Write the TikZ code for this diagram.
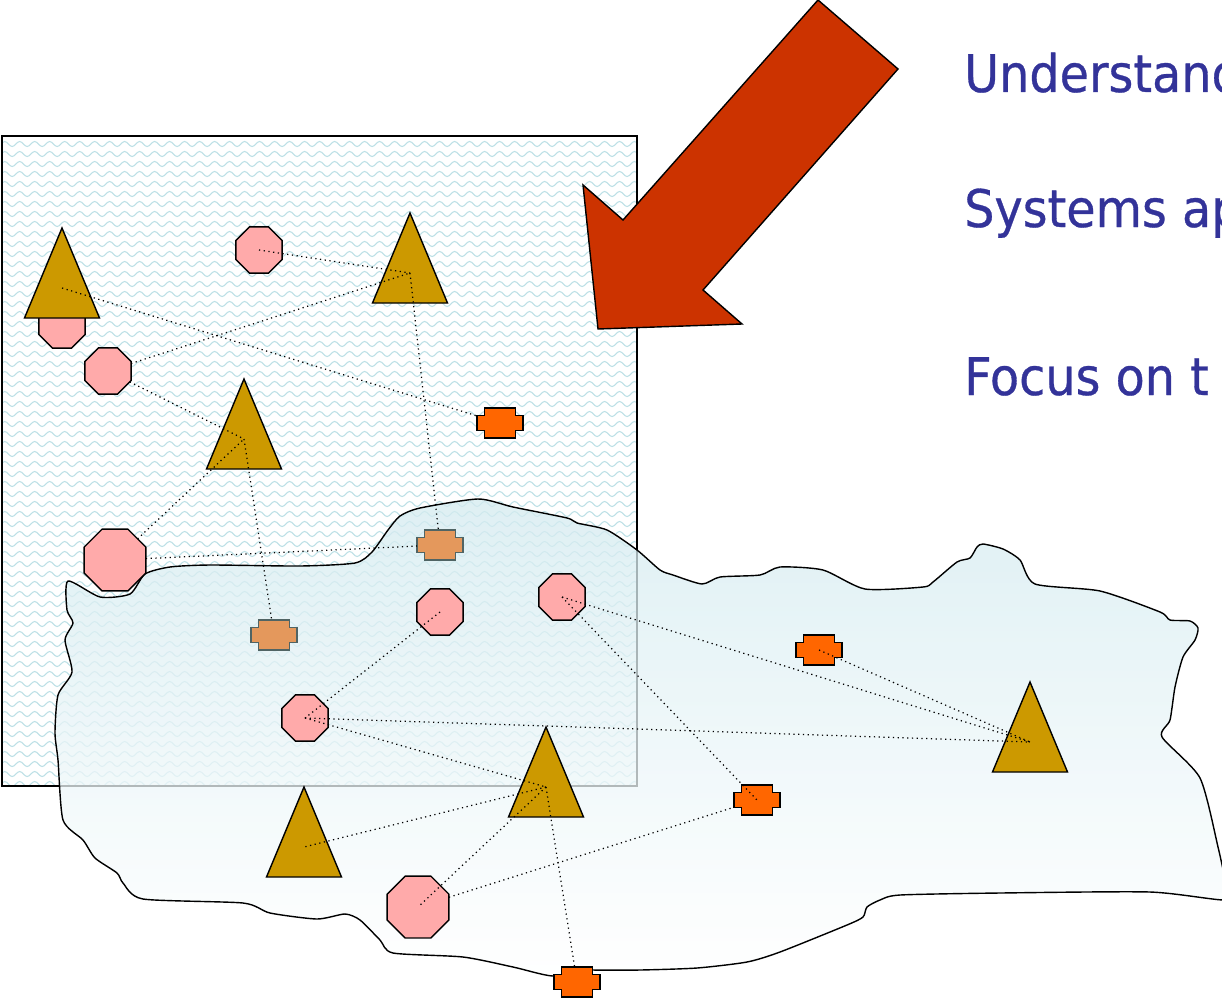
\documentclass[tikz,border=0pt]{standalone}
\usepackage{fontspec}
\usepackage{xcolor}
\usepackage{tikz}
\usetikzlibrary{shapes.geometric,decorations.pathmorphing}
\newfontfamily\slidefont[FakeStretch=0.92,FakeBold=0.6]{DejaVu Sans}
\definecolor{slideblue}{RGB}{51,51,153}
\definecolor{arrowred}{RGB}{204,51,0}
\definecolor{trigold}{RGB}{204,153,0}
\definecolor{octpink}{RGB}{255,170,170}
\definecolor{crossorange}{RGB}{255,102,0}
\definecolor{dullorange}{RGB}{228,152,92}
\definecolor{dulledge}{RGB}{80,100,100}
\definecolor{wavecol}{RGB}{188,224,230}
\definecolor{blobtop}{RGB}{212,235,240}

\begin{document}
\begin{tikzpicture}[x=0.02cm, y=-0.02cm,
  oct/.style={regular polygon, regular polygon sides=8, draw, line width=0.8pt,
    fill=octpink, inner sep=0pt, outer sep=0pt, minimum size=1cm},
  bigoct/.style={oct, minimum size=1.34cm},
  tri/.style={draw, line width=0.8pt, fill=trigold, line join=miter},
  crossbox/.style={rectangle, inner sep=0pt, outer sep=0pt,
    minimum width=0.92cm, minimum height=0.6cm},
  hot/.style={draw, line width=0.8pt, fill=crossorange},
  dull/.style={draw=dulledge, line width=0.8pt, fill=dullorange},
  link/.style={dotted, line width=0.7pt},
  wave/.style={wavecol, line width=0.6pt, decorate,
    decoration={snake, segment length=0.3cm, amplitude=0.05cm}}]
\useasboundingbox (0,0) rectangle (1222,1000);
\def\triat#1#2#3{%
  \draw[tri, shift={(#2,#3)}] (0,-60) -- (37.5,30) -- (-37.5,30) -- cycle;
  \coordinate (#1) at (#2,#3);}
\def\crossat#1#2#3#4{%
  \node[crossbox] (#1) at (#2,#3) {};
  \draw[#4, shift={(#2,#3)}] (-15.5,-15) -- (15.5,-15) -- (15.5,-7.5) -- (23,-7.5)
    -- (23,7.5) -- (15.5,7.5) -- (15.5,15) -- (-15.5,15) -- (-15.5,7.5)
    -- (-23,7.5) -- (-23,-7.5) -- (-15.5,-7.5) -- cycle;}

% patterned frame
\fill[white] (2,136) rectangle (637,786);
\begin{scope}
\clip (2,136) rectangle (637,786);
\foreach \yy in {144,154,...,784}
  \draw[wave] (0,\yy) -- (640,\yy);
\end{scope}
\draw[line width=0.8pt] (2,136) rectangle (637,786);

% the blob
\draw[line width=0.8pt, top color=blobtop, bottom color=white, fill opacity=0.75]
  plot[smooth cycle, tension=0.4] coordinates {
  (68,581) (100,597) (130,594) (145,574) (170,567) (210,565) (300,566)
  (355,563) (372,552) (388,530) (400,516) (420,508) (478,499) (513,507)
  (567,518) (577,523) (607,530) (637,550) (660,570) (673,575) (702,584)
  (720,577) (760,575) (780,567) (823,570) (865,589) (923,587) (933,582)
  (957,562) (970,558) (977,547) (983,544) (1003,549) (1020,560) (1035,584)
  (1100,591) (1160,612) (1170,620) (1190,621) (1198,628) (1195,640)
  (1183,657) (1175,687) (1170,720) (1162,737) (1200,778) (1218,847)
  (1226,885) (1226,900) (1150,892) (1000,893) (900,895) (880,900)
  (867,907) (863,917) (847,925) (780,952) (747,962) (697,968) (640,970)
  (593,970) (583,968) (553,976) (513,967) (463,957) (393,953) (380,940)
  (360,920) (345,914) (317,919) (270,913) (243,903) (143,899) (123,883)
  (117,873) (95,858) (83,840) (63,820) (58,760) (55,733) (58,695)
  (72,672) (65,640) (73,623) (67,610)};

% octagons
\node[oct] (O2) at (62,325) {};
\node[oct] (O1) at (259,250) {};
\node[oct] (O3) at (108,371) {};
\node[bigoct] (O4) at (115,560) {};
\node[oct] (O5) at (440,612) {};
\node[oct] (O6) at (562,597) {};
\node[oct] (O7) at (305,718) {};
\node[bigoct] (O8) at (418,907) {};

% triangles
\triat{T1}{62}{288}
\triat{T2}{410}{273}
\triat{T3}{244}{439}
\triat{T4}{546}{787}
\triat{T5}{304}{847}
\triat{T6}{1030}{742}

% crosses
\crossat{C1}{500}{423}{hot}
\crossat{C2}{440}{545}{dull}
\crossat{C3}{274}{635}{dull}
\crossat{C4}{819}{650}{hot}
\crossat{C5}{757}{800}{hot}
\crossat{C6}{577}{982}{hot}

% links
\draw[link] (T1) -- (C1);
\draw[link] (O1.center) -- (T2);
\draw[link] (O3) -- (T2);
\draw[link] (T2) -- (C2);
\draw[link] (O3) -- (T3);
\draw[link] (O4) -- (T3);
\draw[link] (T3) -- (C3);
\draw[link] (O4) -- (C2);
\draw[link] (O5.center) -- (O7.center);
\draw[link] (O7.center) -- (T6);
\draw[link] (O7.center) -- (T4);
\draw[link] (O6.center) -- (T6);
\draw[link] (O6.center) -- (C5.center);
\draw[link] (C4.center) -- (T6);
\draw[link] (T4) -- (T5);
\draw[link] (T4) -- (O8.center);
\draw[link] (T4) -- (C6);
\draw[link] (O8) -- (C5);

% big arrow
\draw[line width=0.8pt, fill=arrowred, line join=miter] (818,0) -- (898,69) -- (703,290)
  -- (742,324) -- (598,329) -- (583,185) -- (623,220) -- cycle;

\path (958,92) node[anchor=base west, text=slideblue]{\slidefont\fontsize{29.5}{32}\selectfont Understand};
\path (958,227) node[anchor=base west, text=slideblue]{\slidefont\fontsize{29.5}{32}\selectfont Systems ap};
\path (958,395) node[anchor=base west, text=slideblue]{\slidefont\fontsize{29.5}{32}\selectfont Focus on t};
%\path (958,395) node[anchor=base west]{Focus on the};
\end{tikzpicture}
\end{document}
